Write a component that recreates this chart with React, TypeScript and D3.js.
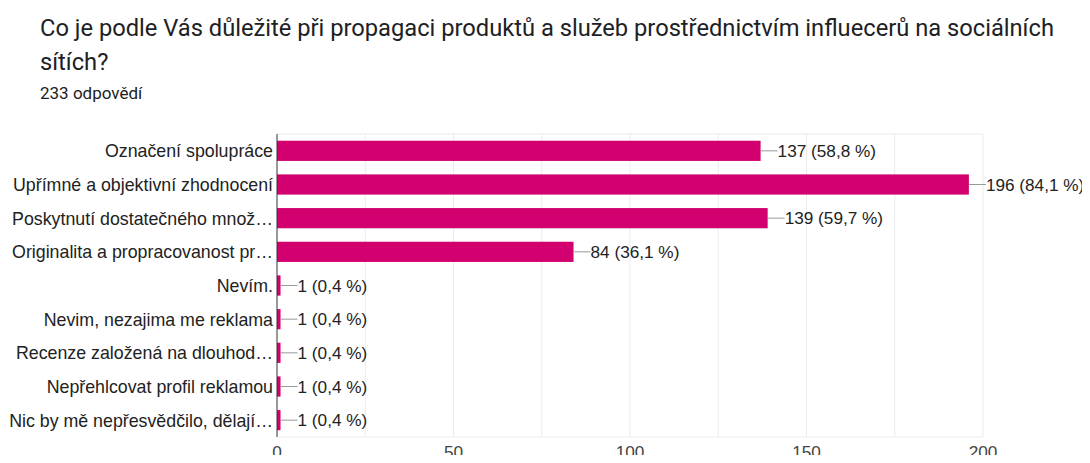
import { useEffect, useRef } from 'react';
import * as d3 from 'd3';

const TITLE_LINES = [
  'Co je podle Vás důležité při propagaci produktů a služeb prostřednictvím influecerů na sociálních',
  'sítích?',
];
const SUBTITLE = '233 odpovědí';

const CATEGORIES = [
  'Označení spolupráce',
  'Upřímné a objektivní zhodnocení',
  'Poskytnutí dostatečného množ…',
  'Originalita a propracovanost pr…',
  'Nevím.',
  'Nevim, nezajima me reklama',
  'Recenze založená na dlouhod…',
  'Nepřehlcovat profil reklamou',
  'Nic by mě nepřesvědčilo, dělají…',
];
const COUNTS = [137, 196, 139, 84, 1, 1, 1, 1, 1];
const PERCENTS = ['58,8', '84,1', '59,7', '36,1', '0,4', '0,4', '0,4', '0,4', '0,4'];
const X_TICKS = [0, 50, 100, 150, 200];
const X_GRID = [25, 50, 75, 100, 125, 150, 175, 200];

const W = 1090;
const H = 463;
const PLOT = { left: 277, right: 983, top: 134, bottom: 437 };
const BAR_COLOR = '#d2006f';
const LABEL_FONT = '"Liberation Sans", Arial, sans-serif';

export default function App() {
  const svgRef = useRef<SVGSVGElement>(null);

  useEffect(() => {
    const svg = d3.select(svgRef.current);
    svg.selectAll('*').remove();

    const x = d3.scaleLinear().domain([0, 200]).range([PLOT.left, PLOT.right]);
    const y = d3
      .scaleBand<string>()
      .domain(CATEGORIES)
      .range([PLOT.top, PLOT.bottom])
      .paddingInner(0.4)
      .paddingOuter(0.2);

    // title
    const title = svg.append('g').attr('font-family', 'Roboto, sans-serif').attr('fill', '#202124');
    TITLE_LINES.forEach((line, i) => {
      title.append('text').attr('x', 40).attr('y', 36 + i * 33.5).attr('font-size', 23.7).text(line);
    });
    title.append('text').attr('x', 40).attr('y', 99).attr('font-size', 17).text(SUBTITLE);

    // gridlines
    svg
      .append('g')
      .selectAll('line')
      .data(X_GRID)
      .join('line')
      .attr('x1', (d) => x(d))
      .attr('x2', (d) => x(d))
      .attr('y1', PLOT.top)
      .attr('y2', PLOT.bottom)
      .attr('stroke', '#ebebeb');

    svg
      .append('g')
      .selectAll('line')
      .data([PLOT.top, PLOT.bottom])
      .join('line')
      .attr('x1', PLOT.left)
      .attr('x2', PLOT.right)
      .attr('y1', (d) => d)
      .attr('y2', (d) => d)
      .attr('stroke', '#ebebeb');

    // bars
    const rows = CATEGORIES.map((c, i) => ({ cat: c, n: COUNTS[i], pct: PERCENTS[i] }));

    svg
      .append('g')
      .selectAll('rect')
      .data(rows)
      .join('rect')
      .attr('x', x(0))
      .attr('y', (d) => y(d.cat)!)
      .attr('width', (d) => x(d.n) - x(0))
      .attr('height', y.bandwidth())
      .attr('fill', BAR_COLOR);

    // connectors + value labels
    const val = svg
      .append('g')
      .attr('font-family', LABEL_FONT)
      .attr('font-size', 17.2)
      .attr('fill', '#222');
    rows.forEach((d) => {
      const cy = y(d.cat)! + y.bandwidth() / 2;
      const x0 = x(d.n);
      val
        .append('line')
        .attr('x1', x0)
        .attr('x2', x0 + 17)
        .attr('y1', cy)
        .attr('y2', cy)
        .attr('stroke', '#999')
        .attr('stroke-width', 1);
      val
        .append('text')
        .attr('x', x0 + 17)
        .attr('y', cy)
        .attr('dy', '0.36em')
        .text(`${d.n} (${d.pct} %)`);
    });

    // category labels
    svg
      .append('g')
      .attr('font-family', LABEL_FONT)
      .attr('font-size', 17.8)
      .attr('fill', '#222')
      .attr('text-anchor', 'end')
      .selectAll('text')
      .data(rows)
      .join('text')
      .attr('x', PLOT.left - 4)
      .attr('y', (d) => y(d.cat)! + y.bandwidth() / 2)
      .attr('dy', '0.36em')
      .text((d) => d.cat);

    // axis line at zero
    svg
      .append('line')
      .attr('x1', x(0))
      .attr('x2', x(0))
      .attr('y1', PLOT.top)
      .attr('y2', PLOT.bottom)
      .attr('stroke', '#333');

    // x tick labels
    svg
      .append('g')
      .attr('font-family', LABEL_FONT)
      .attr('font-size', 17.2)
      .attr('fill', '#444')
      .attr('text-anchor', 'middle')
      .selectAll('text')
      .data(X_TICKS)
      .join('text')
      .attr('x', (d) => x(d))
      .attr('y', 458)
      .text((d) => d3.format('d')(d));
  }, []);

  return (
    <div style={{ margin: -8, width: W, height: H, background: '#fff', overflow: 'hidden' }}>
      <svg ref={svgRef} width={W} height={H} style={{ display: 'block' }} />
    </div>
  );
}
